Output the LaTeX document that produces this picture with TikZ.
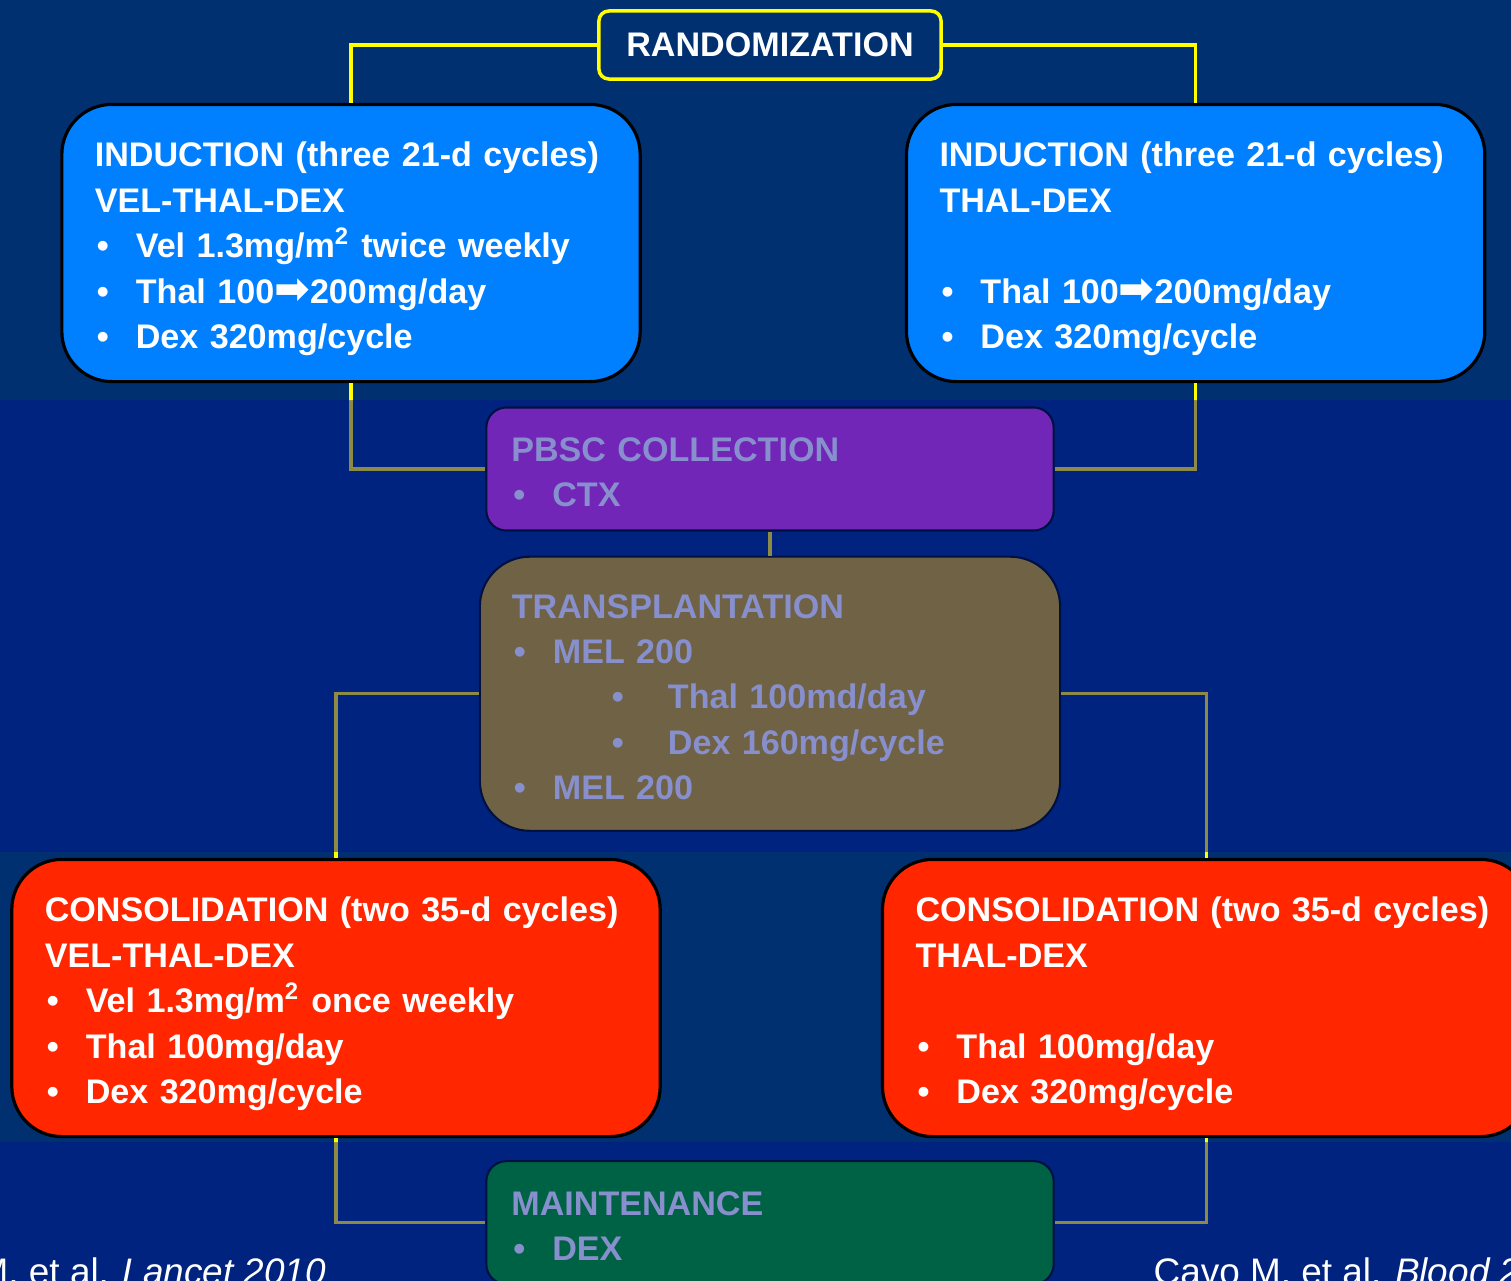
\documentclass[tikz,border=0pt]{standalone}
\usepackage{fontspec}
\setmainfont{Liberation Sans}
\newfontfamily\arrowfont{DejaVu Sans}
\usetikzlibrary{positioning}
\definecolor{bandA}{RGB}{0,48,112}
\definecolor{bandB}{RGB}{0,35,128}
\definecolor{indblue}{RGB}{0,128,255}
\definecolor{pbscpurple}{RGB}{114,38,184}
\definecolor{txbrown}{RGB}{112,98,68}
\definecolor{conred}{RGB}{255,38,0}
\definecolor{mntgreen}{RGB}{0,98,68}
\definecolor{lavtext}{RGB}{135,143,205}
\definecolor{linkolive}{RGB}{140,138,70}
\definecolor{randyellow}{RGB}{255,255,0}
\definecolor{navyedge}{RGB}{0,16,64}
\newcommand\bul{\makebox[0.41cm][l]{\hspace{0.02cm}\textbullet}}
\newcommand\subbul{\makebox[1.56cm][l]{\hspace{1.0cm}\textbullet}}
\newcommand\toarrow{\scalebox{1.25}{\arrowfont ➡}}
\newcommand\links[1]{%
\draw[#1] (rand.west) -| (indL.north);
\draw[#1] (rand.east) -| (indR.north);
\draw[#1] (indL.south) |- (pbsc.west);
\draw[#1] (indR.south) |- (pbsc.east);
\draw[#1] (pbsc.south) -- (tx.north);
\draw[#1] (tx.west) -| (conL.north);
\draw[#1] (tx.east) -| (conR.north);
\draw[#1] (conL.south) |- (mnt.west);
\draw[#1] (conR.south) |- (mnt.east);}
\tikzset{
stage/.style={
rectangle,
rounded corners=0.5cm,
draw=black,
line width=0.9pt,
text=white,
align=left,
inner ysep=0pt,
font=\fontsize{9.7}{12.9}\selectfont\bfseries},
big stage/.style={stage,
inner xsep=0.33cm,
text width=5.12cm,
text height=10.4pt,
minimum height=2.77cm},
con stage/.style={stage,
fill=conred,
inner xsep=0.33cm,
text width=5.82cm,
text height=10.4pt,
minimum height=2.77cm},
small stage/.style={stage,
rounded corners=0.2cm,
draw=navyedge,
line width=0.6pt,
text=lavtext,
inner xsep=0.25cm,
text width=5.17cm,
text height=8.7pt,
minimum height=1.23cm},
link/.style={draw=linkolive, line width=0.9pt},
ylink/.style={draw=randyellow, line width=0.9pt},
cite/.style={text=white, inner sep=0pt,
font=\fontsize{10.5}{12}\selectfont}}
\begin{document}
\begin{tikzpicture}[x=0.01cm, y=-0.01cm]
\useasboundingbox (0,0) rectangle (1511,1281);
\fill[bandA] (0,0) rectangle (1511,400);
\fill[bandB] (0,400) rectangle (1511,852);
\fill[bandA] (0,852) rectangle (1511,1142);
\fill[bandB] (0,1142) rectangle (1511,1281);

\node[stage, rounded corners=0.1cm, draw=randyellow, line width=1pt, fill=bandA,
  align=center, minimum width=3.42cm, minimum height=0.68cm] (rand) at (770,45) {RANDOMIZATION};
\node[big stage, fill=indblue] (indL) at (351,243) {INDUCTION (three 21-d cycles)\\ VEL-THAL-DEX\\
  \bul Vel 1.3mg/m\textsuperscript{2} twice weekly\\ \bul Thal 100\toarrow200mg/day\\ \bul Dex 320mg/cycle};
\node[big stage, fill=indblue, right=2.63cm of indL] (indR) {INDUCTION (three 21-d cycles)\\ THAL-DEX\\ \mbox{}\\
  \bul Thal 100\toarrow200mg/day\\ \bul Dex 320mg/cycle};
\node[small stage, fill=pbscpurple] (pbsc) at (770,469) {PBSC COLLECTION\\ \bul CTX};
\node[small stage, fill=txbrown, rounded corners=0.5cm, inner xsep=0.32cm, text width=5.16cm,
  minimum height=2.74cm, below=0.24cm of pbsc] (tx) {TRANSPLANTATION\\ \bul MEL 200\\
  \subbul Thal 100md/day\\ \subbul Dex 160mg/cycle\\ \bul MEL 200};
\node[con stage] (conL) at (336,998) {CONSOLIDATION (two 35-d cycles)\\ VEL-THAL-DEX\\
  \bul Vel 1.3mg/m\textsuperscript{2} once weekly\\ \bul Thal 100mg/day\\ \bul Dex 320mg/cycle};
\node[con stage, right=2.19cm of conL] (conR) {CONSOLIDATION (two 35-d cycles)\\ THAL-DEX\\ \mbox{}\\
  \bul Thal 100mg/day\\ \bul Dex 320mg/cycle};
\node[small stage, fill=mntgreen, below=3.28cm of tx] (mnt) {MAINTENANCE\\ \bul DEX};

\links{link}
\begin{scope}
\clip (0,0) rectangle (1511,400) (0,852) rectangle (1511,1142);
\links{ylink}
\end{scope}

\node[cite, anchor=base west] (citeL) at (-23,1284) {M, et al. \textit{Lancet 2010}};
\node[cite, anchor=base west] (citeR) at (1153,1284) {Cavo M, et al. \textit{Blood 2010}};
\end{tikzpicture}
\end{document}
